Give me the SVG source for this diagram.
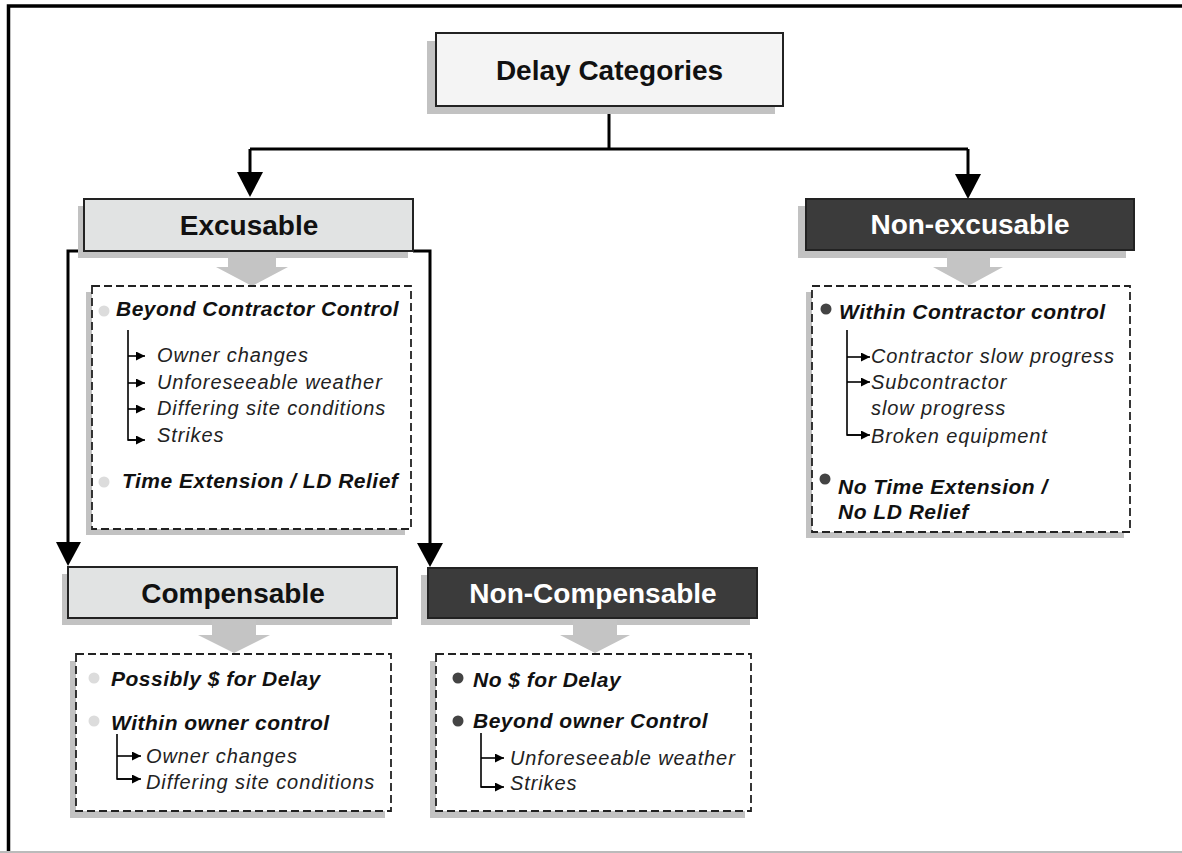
<svg xmlns="http://www.w3.org/2000/svg" width="1182" height="853" viewBox="0 0 1182 853">
<style>
.hdr{font-family:"Liberation Sans",Arial,sans-serif;font-weight:bold;font-size:28px;text-anchor:middle}
.b{font-family:"Liberation Sans",Arial,sans-serif;font-weight:bold;font-style:italic;font-size:21px;letter-spacing:0.5px;fill:#111}
.i{font-family:"Liberation Sans",Arial,sans-serif;font-style:italic;font-size:20px;letter-spacing:0.9px;fill:#222}
.shadow{fill:#c2c2c2}
.light{fill:#e1e3e3;stroke:#222;stroke-width:2}
.dark{fill:#3b3b3b;stroke:#222;stroke-width:2}
.dash{fill:#fff;stroke:#222;stroke-width:1.8;stroke-dasharray:8 4}
.conn{fill:none;stroke:#000;stroke-width:3}
.tree{fill:none;stroke:#000;stroke-width:1.6}
.garrow{fill:#c4c4c4}
.bl{fill:#dcdcdc}
.bd{fill:#444}
</style>
<defs>
<marker id="sm" viewBox="0 0 10 10" refX="10" refY="5" markerWidth="10" markerHeight="9" markerUnits="userSpaceOnUse" orient="auto">
<path d="M0,0 L10,5 L0,10 z" fill="#000"/>
</marker>
</defs>
<rect width="1182" height="853" fill="#fff"/>
<!-- frame -->
<path d="M8.5,853 L8.5,6 L1182,6" fill="none" stroke="#000" stroke-width="3.5"/>
<line x1="0" y1="852" x2="1182" y2="852" stroke="#bbb" stroke-width="2"/>

<g id="connectors">
<path class="conn" d="M609,106 L609,149"/>
<path class="conn" d="M250,149 L968,149"/>
<path class="conn" d="M250,149 L250,175"/>
<path d="M237,172 L263,172 L250,197 z" fill="#000"/>
<path class="conn" d="M968,149 L968,175"/>
<path d="M955,174 L981,174 L968,199 z" fill="#000"/>
<path class="conn" d="M84,251 L68,251 L68,545"/>
<path d="M56,542 L81,542 L68,566 z" fill="#000"/>
<path class="conn" d="M413,251 L430,251 L430,545"/>
<path d="M417,543 L443,543 L430,567 z" fill="#000"/>
</g>

<g id="delay-categories">
<rect class="shadow" x="427" y="41" width="348" height="73"/>
<rect x="436" y="33" width="347" height="73" fill="#f4f4f4" stroke="#222" stroke-width="2"/>
<text class="hdr" x="609.5" y="80" fill="#111">Delay Categories</text>
</g>

<g id="excusable">
<rect class="shadow" x="78" y="206" width="330" height="52"/>
<rect class="light" x="84" y="199" width="329" height="52"/>
<text class="hdr" x="249" y="235" fill="#111">Excusable</text>
<path class="garrow" d="M228,252 L276,252 L276,267 L288,267 L252,286 L216,267 L228,267 z"/>
</g>

<g id="excusable-details">
<rect class="shadow" x="86" y="292" width="319" height="243"/>
<rect class="dash" x="92" y="286" width="319" height="243"/>
<circle class="bl" cx="104" cy="311" r="5.5"/>
<text class="b" x="116" y="316">Beyond Contractor Control</text>
<path class="tree" d="M128,330 L128,440 L143,440"/>
<path class="tree" d="M128,356 L145,356" marker-end="url(#sm)"/>
<path class="tree" d="M128,383 L145,383" marker-end="url(#sm)"/>
<path class="tree" d="M128,409 L145,409" marker-end="url(#sm)"/>
<path class="tree" d="M128,440 L145,440" marker-end="url(#sm)"/>
<text class="i" x="157" y="362">Owner changes</text>
<text class="i" x="157" y="389">Unforeseeable weather</text>
<text class="i" x="157" y="415">Differing site conditions</text>
<text class="i" x="157" y="442">Strikes</text>
<circle class="bl" cx="104" cy="482" r="5.5"/>
<text class="b" x="122" y="488">Time Extension / LD Relief</text>
</g>

<g id="non-excusable">
<rect class="shadow" x="798" y="206" width="328" height="52"/>
<rect class="dark" x="806" y="199" width="328" height="51"/>
<text class="hdr" x="970" y="234" fill="#fff">Non-excusable</text>
<path class="garrow" d="M947,251 L990,251 L990,267 L1003,267 L968,286 L933,267 L947,267 z"/>
</g>

<g id="non-excusable-details">
<rect class="shadow" x="806" y="292" width="318" height="246"/>
<rect class="dash" x="812" y="286" width="318" height="246"/>
<circle class="bd" cx="826" cy="309" r="5.5"/>
<text class="b" x="839" y="319">Within Contractor control</text>
<path class="tree" d="M847,330 L847,435 L862,435"/>
<path class="tree" d="M847,357 L870,357" marker-end="url(#sm)"/>
<path class="tree" d="M847,382 L870,382" marker-end="url(#sm)"/>
<path class="tree" d="M847,435 L870,435" marker-end="url(#sm)"/>
<text class="i" x="871" y="363">Contractor slow progress</text>
<text class="i" x="871" y="389">Subcontractor</text>
<text class="i" x="871" y="415">slow progress</text>
<text class="i" x="871" y="443">Broken equipment</text>
<circle class="bd" cx="825" cy="479" r="5.5"/>
<text class="b" x="838" y="494">No Time Extension /</text>
<text class="b" x="838" y="519">No LD Relief</text>
</g>

<g id="compensable">
<rect class="shadow" x="62" y="574" width="330" height="51"/>
<rect class="light" x="68" y="567" width="329" height="51"/>
<text class="hdr" x="233" y="603" fill="#111">Compensable</text>
<path class="garrow" d="M212,619 L256,619 L256,635 L270,635 L234,653 L198,635 L212,635 z"/>
</g>

<g id="compensable-details">
<rect class="shadow" x="70" y="661" width="315" height="157"/>
<rect class="dash" x="76" y="654" width="315" height="157"/>
<circle class="bl" cx="94" cy="678" r="5.5"/>
<text class="b" x="111" y="686">Possibly $ for Delay</text>
<circle class="bl" cx="94" cy="721" r="5.5"/>
<text class="b" x="111" y="730">Within owner control</text>
<path class="tree" d="M117,734 L117,779 L132,779"/>
<path class="tree" d="M117,756 L141,756" marker-end="url(#sm)"/>
<path class="tree" d="M117,779 L141,779" marker-end="url(#sm)"/>
<text class="i" x="146" y="763">Owner changes</text>
<text class="i" x="146" y="789">Differing site conditions</text>
</g>

<g id="non-compensable">
<rect class="shadow" x="421" y="575" width="329" height="50"/>
<rect class="dark" x="428" y="568" width="329" height="50"/>
<text class="hdr" x="593" y="603" fill="#fff">Non-Compensable</text>
<path class="garrow" d="M573,619 L617,619 L617,635 L630,635 L595,653 L560,635 L573,635 z"/>
</g>

<g id="non-compensable-details">
<rect class="shadow" x="430" y="661" width="315" height="157"/>
<rect class="dash" x="436" y="654" width="315" height="157"/>
<circle class="bd" cx="458" cy="678" r="5.5"/>
<text class="b" x="473" y="687">No $ for Delay</text>
<circle class="bd" cx="458" cy="721" r="5.5"/>
<text class="b" x="473" y="728">Beyond owner Control</text>
<path class="tree" d="M481,733 L481,787 L495,787"/>
<path class="tree" d="M481,758 L504,758" marker-end="url(#sm)"/>
<path class="tree" d="M481,787 L504,787" marker-end="url(#sm)"/>
<text class="i" x="510" y="765">Unforeseeable weather</text>
<text class="i" x="510" y="790">Strikes</text>
</g>
</svg>
